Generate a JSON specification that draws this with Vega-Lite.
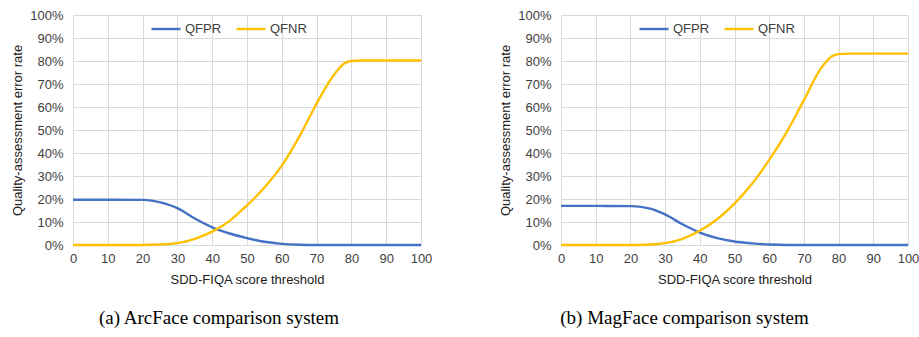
{
  "$schema": "https://vega.github.io/schema/vega-lite/v6.json",
  "background": "white",
  "padding": {"left": 11, "top": 9, "right": 0, "bottom": 3},
  "spacing": 67,
  "datasets": {
    "arc": [
      {"series": "QFPR", "x": 0, "y": 0.197}, {"series": "QFPR", "x": 10, "y": 0.197}, {"series": "QFPR", "x": 20, "y": 0.196},
      {"series": "QFPR", "x": 23, "y": 0.192}, {"series": "QFPR", "x": 26, "y": 0.182}, {"series": "QFPR", "x": 30, "y": 0.16},
      {"series": "QFPR", "x": 35, "y": 0.115}, {"series": "QFPR", "x": 40, "y": 0.077}, {"series": "QFPR", "x": 45, "y": 0.05},
      {"series": "QFPR", "x": 50, "y": 0.03}, {"series": "QFPR", "x": 55, "y": 0.014}, {"series": "QFPR", "x": 60, "y": 0.005},
      {"series": "QFPR", "x": 65, "y": 0.001}, {"series": "QFPR", "x": 70, "y": 0}, {"series": "QFPR", "x": 100, "y": 0},
      {"series": "QFNR", "x": 0, "y": 0}, {"series": "QFNR", "x": 20, "y": 0}, {"series": "QFNR", "x": 25, "y": 0.002},
      {"series": "QFNR", "x": 30, "y": 0.008}, {"series": "QFNR", "x": 35, "y": 0.027}, {"series": "QFNR", "x": 40, "y": 0.058},
      {"series": "QFNR", "x": 45, "y": 0.105}, {"series": "QFNR", "x": 48, "y": 0.145}, {"series": "QFNR", "x": 50, "y": 0.172},
      {"series": "QFNR", "x": 55, "y": 0.25}, {"series": "QFNR", "x": 60, "y": 0.345}, {"series": "QFNR", "x": 65, "y": 0.47},
      {"series": "QFNR", "x": 70, "y": 0.615}, {"series": "QFNR", "x": 75, "y": 0.74}, {"series": "QFNR", "x": 78, "y": 0.79},
      {"series": "QFNR", "x": 80, "y": 0.8}, {"series": "QFNR", "x": 83, "y": 0.802}, {"series": "QFNR", "x": 100, "y": 0.802}
    ],
    "mag": [
      {"series": "QFPR", "x": 0, "y": 0.17}, {"series": "QFPR", "x": 10, "y": 0.17}, {"series": "QFPR", "x": 20, "y": 0.169},
      {"series": "QFPR", "x": 23, "y": 0.166}, {"series": "QFPR", "x": 26, "y": 0.157}, {"series": "QFPR", "x": 30, "y": 0.133},
      {"series": "QFPR", "x": 35, "y": 0.09}, {"series": "QFPR", "x": 40, "y": 0.054}, {"series": "QFPR", "x": 45, "y": 0.03},
      {"series": "QFPR", "x": 50, "y": 0.015}, {"series": "QFPR", "x": 55, "y": 0.007}, {"series": "QFPR", "x": 60, "y": 0.002},
      {"series": "QFPR", "x": 65, "y": 0}, {"series": "QFPR", "x": 100, "y": 0},
      {"series": "QFNR", "x": 0, "y": 0}, {"series": "QFNR", "x": 22, "y": 0}, {"series": "QFNR", "x": 27, "y": 0.003},
      {"series": "QFNR", "x": 30, "y": 0.008}, {"series": "QFNR", "x": 35, "y": 0.027}, {"series": "QFNR", "x": 40, "y": 0.062},
      {"series": "QFNR", "x": 45, "y": 0.112}, {"series": "QFNR", "x": 50, "y": 0.18}, {"series": "QFNR", "x": 55, "y": 0.265},
      {"series": "QFNR", "x": 60, "y": 0.37}, {"series": "QFNR", "x": 65, "y": 0.49}, {"series": "QFNR", "x": 70, "y": 0.63},
      {"series": "QFNR", "x": 75, "y": 0.77}, {"series": "QFNR", "x": 78, "y": 0.82}, {"series": "QFNR", "x": 80, "y": 0.83},
      {"series": "QFNR", "x": 83, "y": 0.832}, {"series": "QFNR", "x": 100, "y": 0.832}
    ]
  },
  "config": {
    "font": "Liberation Sans",
    "view": {"stroke": null},
    "axis": {
      "labelFont": "Liberation Sans", "labelFontSize": 13, "labelColor": "#404040", "labelFlush": false,
      "titleFont": "Liberation Sans", "titleFontSize": 13, "titleFontWeight": "normal", "titleColor": "#202020",
      "gridColor": "#d9d9d9", "gridWidth": 1, "domainColor": "#d9d9d9", "ticks": false
    },
    "axisX": {"labelPadding": 7, "titlePadding": 8},
    "axisY": {"labelPadding": 10, "titlePadding": 5},
    "title": {"font": "Liberation Serif", "fontSize": 19, "fontWeight": "normal", "color": "#000000", "orient": "bottom", "offset": 23, "frame": "group"},
    "legend": {"labelFont": "Liberation Sans", "labelFontSize": 13, "labelColor": "#404040", "padding": 0}
  },
  "hconcat": [
    {
      "width": 348, "height": 230,
      "title": {"text": "(a) ArcFace comparison system", "dx": -28},
      "data": {"name": "arc"},
      "mark": {"type": "line", "strokeWidth": 2.4, "interpolate": "monotone"},
      "encoding": {
        "x": {"field": "x", "type": "quantitative", "scale": {"domain": [0, 100], "nice": false},
              "axis": {"values": [0,10,20,30,40,50,60,70,80,90,100], "title": "SDD-FIQA score threshold"}},
        "y": {"field": "y", "type": "quantitative", "scale": {"domain": [0, 1], "nice": false},
              "axis": {"values": [0,0.1,0.2,0.3,0.4,0.5,0.6,0.7,0.8,0.9,1], "format": ".0%", "title": "Quality-assessment error rate"}},
        "color": {"field": "series", "type": "nominal", "sort": ["QFPR", "QFNR"],
                  "scale": {"domain": ["QFPR", "QFNR"], "range": ["#4472C4", "#FFC000"]},
                  "legend": {"title": null, "orient": "none", "direction": "horizontal", "legendX": 77, "legendY": -2,
                             "symbolType": "stroke", "symbolSize": 841, "symbolStrokeWidth": 2.4, "columnPadding": 9, "labelOffset": 3}}
      }
    },
    {
      "width": 347, "height": 230,
      "title": {"text": "(b) MagFace comparison system", "dx": -50},
      "data": {"name": "mag"},
      "mark": {"type": "line", "strokeWidth": 2.4, "interpolate": "monotone"},
      "encoding": {
        "x": {"field": "x", "type": "quantitative", "scale": {"domain": [0, 100], "nice": false},
              "axis": {"values": [0,10,20,30,40,50,60,70,80,90,100], "title": "SDD-FIQA score threshold"}},
        "y": {"field": "y", "type": "quantitative", "scale": {"domain": [0, 1], "nice": false},
              "axis": {"values": [0,0.1,0.2,0.3,0.4,0.5,0.6,0.7,0.8,0.9,1], "format": ".0%", "title": "Quality-assessment error rate"}},
        "color": {"field": "series", "type": "nominal", "sort": ["QFPR", "QFNR"],
                  "scale": {"domain": ["QFPR", "QFNR"], "range": ["#4472C4", "#FFC000"]},
                  "legend": {"title": null, "orient": "none", "direction": "horizontal", "legendX": 77, "legendY": -2,
                             "symbolType": "stroke", "symbolSize": 841, "symbolStrokeWidth": 2.4, "columnPadding": 9, "labelOffset": 3}}
      }
    }
  ],
  "resolve": {"scale": {"color": "independent"}, "legend": {"color": "independent"}}
}
